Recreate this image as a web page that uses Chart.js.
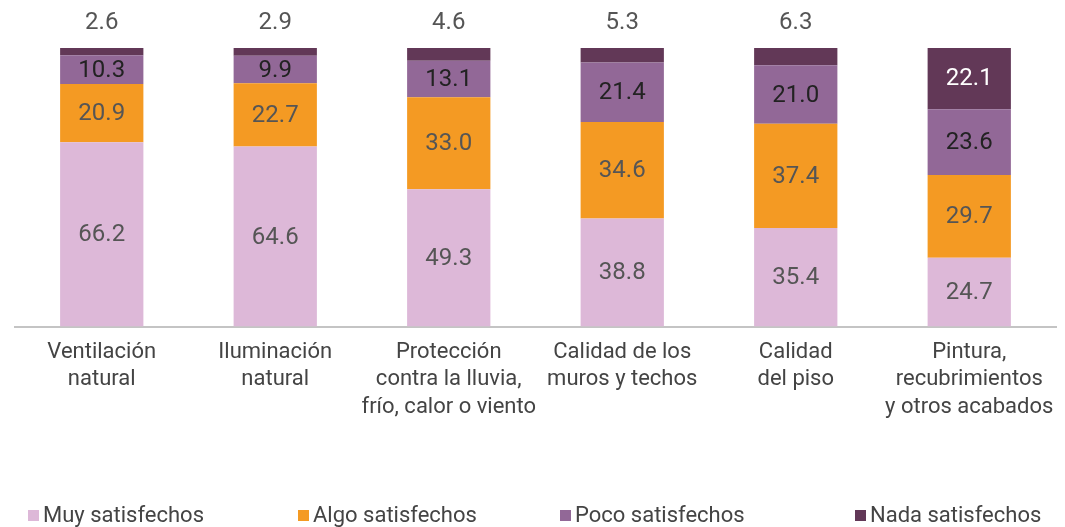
<!DOCTYPE html>
<html lang="es">
<head>
    <meta charset="UTF-8">
    <title>Satisfacción con la vivienda</title>
    <script src="https://cdn.jsdelivr.net/npm/chart.js"></script>
    <style>
        body {
            margin: 0;
            padding: 0;
            background: white;
        }
        .wrap {
            position: relative;
            width: 1065px;
            height: 527px;
            overflow: hidden;
        }
        /* legend is plain html so the items can sit where the original has them */
        .legend span {
            position: absolute;
            top: 502px;
            font-family: Roboto, sans-serif;
            font-size: 22px;
            color: #444444;
            white-space: nowrap;
        }
        .legend i {
            display: inline-block;
            width: 11px;
            height: 11px;
            margin-right: 4px;
            vertical-align: 1px;
        }
    </style>
</head>
<body>
    <div class="wrap">
        <canvas id="chart" width="1065" height="527"></canvas>
        <div class="legend" id="legend"></div>
    </div>

    <script>
        const categories = [
            ["Ventilación", "natural"],
            ["Iluminación", "natural"],
            ["Protección", "contra la lluvia,", "frío, calor o viento"],
            ["Calidad de los", "muros y techos"],
            ["Calidad", "del piso"],
            ["Pintura,", "recubrimientos", "y otros acabados"]
        ];
        const seriesNames = ["Muy satisfechos", "Algo satisfechos", "Poco satisfechos", "Nada satisfechos"];
        const muySatisfechos = [66.2, 64.6, 49.3, 38.8, 35.4, 24.7];
        const algoSatisfechos = [20.9, 22.7, 33.0, 34.6, 37.4, 29.7];
        const pocoSatisfechos = [10.3, 9.9, 13.1, 21.4, 21.0, 23.6];
        const nadaSatisfechos = [2.6, 2.9, 4.6, 5.3, 6.3, 22.1];

        const colors = ["#DDB8D8", "#F49A23", "#926897", "#623857"];
        const labelColors = ["#555555", "#555555", "#222222", "#ffffff"];
        const legendX = [28, 298, 560, 855];

        // value labels: inside the segment, or above the bar when the top segment is thin
        const valueLabels = {
            id: "valueLabels",
            afterDatasetsDraw(chart) {
                const ctx = chart.ctx;
                ctx.save();
                ctx.font = "24px Roboto";
                ctx.textAlign = "center";
                ctx.textBaseline = "middle";
                chart.data.datasets.forEach((ds, i) => {
                    const meta = chart.getDatasetMeta(i);
                    meta.data.forEach((bar, j) => {
                        const v = ds.data[j];
                        const txt = v.toFixed(1);
                        if (i === 3 && v < 10) {
                            ctx.fillStyle = "#555555";
                            ctx.fillText(txt, bar.x, bar.y - 25);
                        } else {
                            ctx.fillStyle = labelColors[i];
                            ctx.fillText(txt, bar.x, (bar.y + bar.base) / 2 + 1);
                        }
                    });
                });
                ctx.restore();
            }
        };

        const chart = new Chart(document.getElementById("chart"), {
            type: "bar",
            data: {
                labels: categories,
                datasets: [
                    { label: seriesNames[0], data: muySatisfechos, backgroundColor: colors[0] },
                    { label: seriesNames[1], data: algoSatisfechos, backgroundColor: colors[1] },
                    { label: seriesNames[2], data: pocoSatisfechos, backgroundColor: colors[2] },
                    { label: seriesNames[3], data: nadaSatisfechos, backgroundColor: colors[3] }
                ]
            },
            options: {
                responsive: false,
                animation: false,
                barPercentage: 0.48,
                categoryPercentage: 1,
                layout: {
                    padding: { top: 48, left: 15, right: 9, bottom: 102 }
                },
                scales: {
                    x: {
                        stacked: true,
                        grid: { display: false },
                        border: { color: "#c4c4c4", width: 2 },
                        ticks: {
                            color: "#444444",
                            font: { family: "Roboto", size: 22, lineHeight: 1.25 },
                            maxRotation: 0,
                            autoSkip: false,
                            padding: 4
                        }
                    },
                    y: {
                        stacked: true,
                        display: false,
                        min: 0,
                        max: 100
                    }
                },
                plugins: {
                    legend: { display: false },
                    tooltip: { enabled: false }
                }
            },
            plugins: [valueLabels]
        });

        const legend = document.getElementById("legend");
        chart.data.datasets.forEach((ds, i) => {
            const item = document.createElement("span");
            item.style.left = legendX[i] + "px";
            item.innerHTML = '<i style="background:' + ds.backgroundColor + '"></i>' + ds.label;
            legend.appendChild(item);
        });
    </script>
</body>
</html>
